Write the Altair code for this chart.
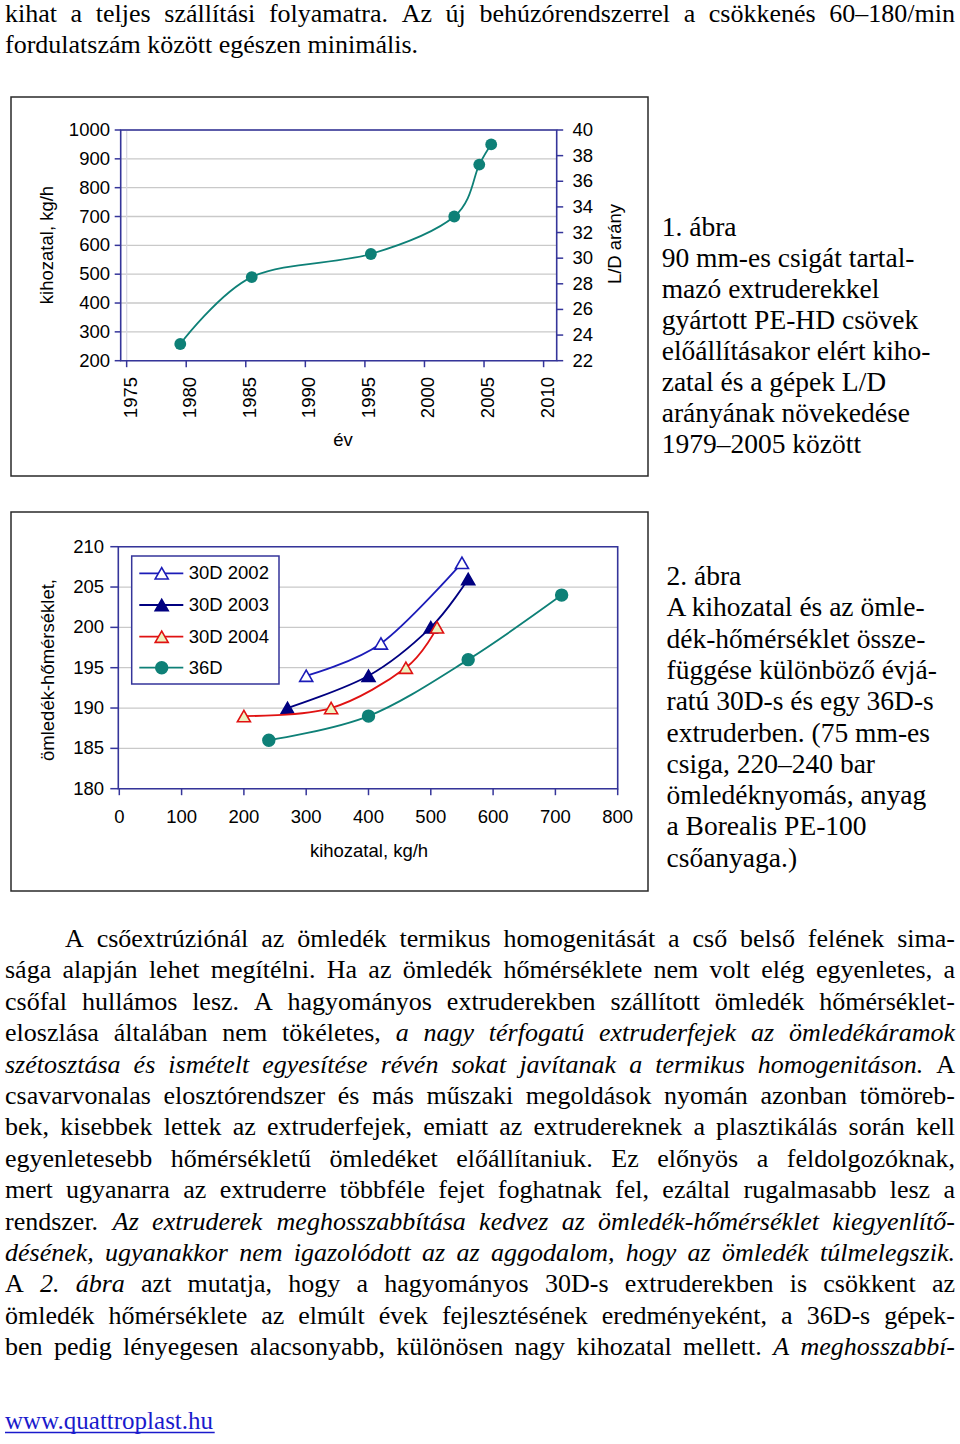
import unicodedata
import altair as alt
import pandas as pd

# ---------------- data ----------------
# Figure 1: output vs. year
years = [1979.5, 1985.5, 1995.5, 2002.5, 2004.6, 2005.6]
output_kgh = [258, 490, 570, 700, 880, 950]
year_ticks = [1975, 1980, 1985, 1990, 1995, 2000, 2005, 2010]
output_ticks = [200, 300, 400, 500, 600, 700, 800, 900, 1000]
ld_ticks = [22, 24, 26, 28, 30, 32, 34, 36, 38, 40]

# Figure 2: melt temperature vs. output
series_names = ["30D 2002", "30D 2003", "30D 2004", "36D"]
s2002_x = [300, 420, 550]
s2002_y = [194, 198, 208]
s2003_x = [270, 400, 500, 560]
s2003_y = [190, 194, 200, 206]
s2004_x = [200, 340, 460, 510]
s2004_y = [189, 190, 195, 200]
s36_x = [240, 400, 560, 710]
s36_y = [186, 189, 196, 204]
kg_ticks = [0, 100, 200, 300, 400, 500, 600, 700, 800]
temp_ticks = [180, 185, 190, 195, 200, 205, 210]

# Page text
top_lines = [
    "kihat a teljes szállítási folyamatra. Az új behúzórendszerrel a csökkenés 60–180/min",
    "fordulatszám között egészen minimális.",
]
caption1 = ["1. ábra", "90 mm-es csigát tartal-", "mazó extruderekkel", "gyártott PE-HD csövek",
            "előállításakor elért kiho-", "zatal és a gépek L/D", "arányának növekedése",
            "1979–2005 között"]
caption2 = ["2. ábra", "A kihozatal és az ömle-", "dék-hőmérséklet össze-", "függése különböző évjá-",
            "ratú 30D-s és egy 36D-s", "extruderben. (75 mm-es", "csiga, 220–240 bar",
            "ömledéknyomás, anyag", "a Borealis PE-100", "csőanyaga.)"]
body_lines = [
    "A csőextrúziónál az ömledék termikus homogenitását a cső belső felének sima-",
    "sága alapján lehet megítélni. Ha az ömledék hőmérséklete nem volt elég egyenletes, a",
    "csőfal hullámos lesz. A hagyományos extruderekben szállított ömledék hőmérséklet-",
    "eloszlása általában nem tökéletes, {a nagy térfogatú extruderfejek az ömledékáramok}",
    "{szétosztása és ismételt egyesítése révén sokat javítanak a termikus homogenitáson.} A",
    "csavarvonalas elosztórendszer és más műszaki megoldások nyomán azonban tömöreb-",
    "bek, kisebbek lettek az extruderfejek, emiatt az extrudereknek a plasztikálás során kell",
    "egyenletesebb hőmérsékletű ömledéket előállítaniuk. Ez előnyös a feldolgozóknak,",
    "mert ugyanarra az extruderre többféle fejet foghatnak fel, ezáltal rugalmasabb lesz a",
    "rendszer. {Az extruderek meghosszabbítása kedvez az ömledék-hőmérséklet kiegyenlítő-}",
    "{désének, ugyanakkor nem igazolódott az az aggodalom, hogy az ömledék túlmelegszik.}",
    "A {2. ábra} azt mutatja, hogy a hagyományos 30D-s extruderekben is csökkent az",
    "ömledék hőmérséklete az elmúlt évek fejlesztésének eredményeként, a 36D-s gépek-",
    "ben pedig lényegesen alacsonyabb, különösen nagy kihozatal mellett. {A meghosszabbí-}",
]
link_text = "www.quattroplast.hu"

# ---------------- styles ----------------
SANS = "Liberation Sans, Arial, sans-serif"
SERIF = "Liberation Serif, Times New Roman, serif"
NAVY = "#35359a"
GRID = "#c9c9c9"
TEAL = "#0e8077"
C2002 = "#1c1cb8"
C2003 = "#000080"
C2004 = "#e01212"
F2004 = "#ecf2c0"
LBL = 18.5

RM = dict(zip("abcdefghijklmnopqrstuvwxyz",
              [.444, .5, .444, .5, .444, .333, .5, .5, .278, .278, .5, .278, .778, .5, .5, .5, .5,
               .333, .389, .278, .5, .5, .722, .5, .5, .444]))
RM.update(dict(zip("ABCDEFGHIJKLMNOPQRSTUVWXYZ",
                   [.722, .667, .667, .722, .611, .556, .722, .722, .333, .389, .722, .611, .889, .722,
                    .722, .556, .722, .667, .556, .611, .722, .722, .944, .722, .722, .611])))
IT = dict(zip("abcdefghijklmnopqrstuvwxyz",
              [.5, .5, .444, .5, .444, .278, .5, .5, .278, .278, .444, .278, .722, .5, .5, .5, .5,
               .389, .389, .278, .5, .444, .667, .444, .444, .389]))
IT.update(dict(zip("ABCDEFGHIJKLMNOPQRSTUVWXYZ",
                   [.611, .611, .667, .722, .611, .611, .722, .722, .333, .444, .667, .556, .833, .667,
                    .722, .611, .722, .611, .5, .556, .722, .611, .833, .611, .556, .556])))
for t in (RM, IT):
    t.update({" ": .25, ".": .25, ",": .25, "-": .333, "–": .5, "/": .278, "(": .333, ")": .333,
              ":": .278})
    for d in "0123456789":
        t[d] = .5


def text_w(s, italic, fs):
    tab = IT if italic else RM
    return sum(tab.get(unicodedata.normalize("NFD", ch)[0], .5) for ch in s) * fs


def parse(line):
    words, ital = [], False
    for tok in line.split(" "):
        start_it = tok.startswith("{")
        if start_it:
            ital = True
            tok = tok[1:]
        end_it = tok.endswith("}")
        if end_it:
            tok = tok[:-1]
        words.append((tok, ital))
        if end_it:
            ital = False
    return words


def layout(lines, y0, step, fs, left=5, right=955, indent_first=0, justify_last=True):
    rows = []
    for i, line in enumerate(lines):
        words = parse(line)
        x0 = left + (indent_first if i == 0 else 0)
        widths = [text_w(w, it, fs) for w, it in words]
        last = i == len(lines) - 1
        if len(words) > 1 and (justify_last or not last):
            gap = (right - x0 - sum(widths)) / (len(words) - 1)
        else:
            gap = .25 * fs
        x = x0
        for (w, it), wd in zip(words, widths):
            rows.append({"px": x, "py": y0 + i * step, "w": w, "it": it})
            x += wd + gap
    return pd.DataFrame(rows)


DUMMY = pd.DataFrame({"k": [0]})
layers = []


def box(x1, x2, y1, y2, stroke, sw, fill=None):
    kw = dict(stroke=stroke, strokeWidth=sw)
    if fill:
        kw["fill"] = fill
    else:
        kw["fillOpacity"] = 0
    return alt.Chart(DUMMY).mark_rect(**kw).encode(
        x=alt.value(x1), x2=alt.value(x2), y=alt.value(y1), y2=alt.value(y2))


def label(txt, x, y, angle=0, size=LBL):
    kw = dict(text=txt, font=SANS, fontSize=size, color="black", align="center", baseline="middle")
    if angle:
        kw["angle"] = angle
    return alt.Chart(DUMMY).mark_text(**kw).encode(x=alt.value(x), y=alt.value(y))


def words_layers(df, fs, color="black"):
    out = []
    for it in (False, True):
        sub = df[df["it"] == it]
        if len(sub) == 0:
            continue
        kw = dict(font=SERIF, fontSize=fs, align="left", baseline="alphabetic", color=color)
        if it:
            kw["fontStyle"] = "italic"
        out.append(alt.Chart(sub[["px", "py", "w"]]).mark_text(**kw).encode(
            x=alt.X("px:Q", scale=None, axis=None), y=alt.Y("py:Q", scale=None, axis=None),
            text="w:N"))
    return out


# ---------------- figure 1 ----------------
L1, R1x, T1, B1 = 120.7, 556.7, 130.0, 360.7
X1 = alt.Scale(domain=[1974.5, 2011.1], range=[L1, R1x])
Y1 = alt.Scale(domain=[200, 1000], range=[B1, T1])
LDs = alt.Scale(domain=[22, 40], range=[B1, T1])
df1 = pd.DataFrame({"year": years, "out": output_kgh})
dy1 = pd.DataFrame({"v": output_ticks})
dld = pd.DataFrame({"v": ld_ticks})
dyr = pd.DataFrame({"v": year_ticks})

layers.append(box(11, 648, 97, 476, "#2a2a2a", 1.5))
layers.append(alt.Chart(dy1).mark_rule(color=GRID, strokeWidth=1.3).encode(
    y=alt.Y("v:Q", scale=Y1, axis=None), x=alt.value(L1), x2=alt.value(R1x)))
layers.append(alt.Chart(pd.DataFrame({"v": [1975]})).mark_rule(color="#d9d9e3", strokeWidth=1.3).encode(
    x=alt.X("v:Q", scale=X1, axis=None), y=alt.value(T1), y2=alt.value(B1)))
layers.append(box(L1, R1x, T1, B1, NAVY, 1.6))
layers.append(alt.Chart(dy1).mark_rule(color=NAVY, strokeWidth=1.5).encode(
    y=alt.Y("v:Q", scale=Y1, axis=None), x=alt.value(L1 - 6), x2=alt.value(L1)))
layers.append(alt.Chart(dld).mark_rule(color=NAVY, strokeWidth=1.5).encode(
    y=alt.Y("v:Q", scale=LDs, axis=None), x=alt.value(R1x), x2=alt.value(R1x + 6.5)))
layers.append(alt.Chart(dyr).mark_rule(color=NAVY, strokeWidth=1.5).encode(
    x=alt.X("v:Q", scale=X1, axis=None), y=alt.value(B1), y2=alt.value(B1 + 6.5)))
layers.append(alt.Chart(df1).mark_line(color=TEAL, strokeWidth=1.8, interpolate="cardinal", tension=0).encode(
    x=alt.X("year:Q", scale=X1, axis=None), y=alt.Y("out:Q", scale=Y1, axis=None)))
layers.append(alt.Chart(df1).mark_circle(color=TEAL, size=140, opacity=1).encode(
    x=alt.X("year:Q", scale=X1, axis=None), y=alt.Y("out:Q", scale=Y1, axis=None)))
layers.append(alt.Chart(dy1).mark_text(font=SANS, fontSize=LBL, align="right", baseline="middle").encode(
    y=alt.Y("v:Q", scale=Y1, axis=None), x=alt.value(110), text="v:Q"))
layers.append(alt.Chart(dld).mark_text(font=SANS, fontSize=LBL, align="left", baseline="middle").encode(
    y=alt.Y("v:Q", scale=LDs, axis=None), x=alt.value(572.5), text="v:Q"))
layers.append(alt.Chart(dyr).mark_text(font=SANS, fontSize=LBL, align="right", baseline="middle",
                                       angle=270, dy=4).encode(
    x=alt.X("v:Q", scale=X1, axis=None), y=alt.value(377), text="v:Q"))
layers.append(label("kihozatal, kg/h", 47, 245, angle=270))
layers.append(label("L/D arány", 615, 244, angle=270))
layers.append(label("év", 343, 440))

# ---------------- figure 2 ----------------
L2, R2x, T2, B2 = 118.3, 617.7, 546.7, 788.7
X2 = alt.Scale(domain=[-1.6, 800], range=[L2, R2x])
Y2 = alt.Scale(domain=[180, 210], range=[B2, T2])
dkg = pd.DataFrame({"v": kg_ticks})
dtp = pd.DataFrame({"v": temp_ticks})

layers.append(box(11, 648, 512, 891, "#2a2a2a", 1.5))
layers.append(alt.Chart(dtp).mark_rule(color=GRID, strokeWidth=1.3).encode(
    y=alt.Y("v:Q", scale=Y2, axis=None), x=alt.value(L2), x2=alt.value(R2x)))
layers.append(box(L2, R2x, T2, B2, NAVY, 1.6))
layers.append(alt.Chart(dtp).mark_rule(color=NAVY, strokeWidth=1.5).encode(
    y=alt.Y("v:Q", scale=Y2, axis=None), x=alt.value(L2 - 8), x2=alt.value(L2)))
layers.append(alt.Chart(dkg).mark_rule(color=NAVY, strokeWidth=1.5).encode(
    x=alt.X("v:Q", scale=X2, axis=None), y=alt.value(B2), y2=alt.value(B2 + 6.5)))

styles = {
    "30D 2002": dict(line=C2002, shape="triangle-up", fill="white", stroke=C2002, size=170),
    "30D 2003": dict(line=C2003, shape="triangle-up", fill=C2003, stroke=C2003, size=170),
    "30D 2004": dict(line=C2004, shape="triangle-up", fill=F2004, stroke=C2004, size=170),
    "36D": dict(line=TEAL, shape="circle", fill=TEAL, stroke=TEAL, size=140),
}
series_xy = {"30D 2002": (s2002_x, s2002_y), "30D 2003": (s2003_x, s2003_y),
             "30D 2004": (s2004_x, s2004_y), "36D": (s36_x, s36_y)}


def marker(st, **enc):
    return alt.Chart(enc.pop("data")).mark_point(
        shape=st["shape"], size=st["size"], fill=st["fill"], stroke=st["stroke"], strokeWidth=1.6,
        filled=True, opacity=1, fillOpacity=1).encode(**enc)


for name in series_names:
    st = styles[name]
    xs, ys = series_xy[name]
    d = pd.DataFrame({"kg": xs, "t": ys})
    layers.append(alt.Chart(d).mark_line(color=st["line"], strokeWidth=1.8, interpolate="cardinal",
                                         tension=0).encode(
        x=alt.X("kg:Q", scale=X2, axis=None), y=alt.Y("t:Q", scale=Y2, axis=None)))
    layers.append(marker(st, data=d, x=alt.X("kg:Q", scale=X2, axis=None),
                         y=alt.Y("t:Q", scale=Y2, axis=None)))

layers.append(alt.Chart(dtp).mark_text(font=SANS, fontSize=LBL, align="right", baseline="middle").encode(
    y=alt.Y("v:Q", scale=Y2, axis=None), x=alt.value(104), text="v:Q"))
layers.append(alt.Chart(dkg).mark_text(font=SANS, fontSize=LBL, align="center", baseline="middle").encode(
    x=alt.X("v:Q", scale=X2, axis=None), y=alt.value(816.7), text="v:Q"))
layers.append(label("ömledék-hőmérséklet,", 48, 670, angle=270))
layers.append(label("kihozatal, kg/h", 369, 851))

# legend
leg_y = [573.3, 605.0, 636.7, 667.7]
layers.append(box(131.7, 279, 556, 684, NAVY, 1.5, fill="white"))
for name, ly in zip(series_names, leg_y):
    st = styles[name]
    dl = pd.DataFrame({"ly": [ly], "name": [name]})
    layers.append(alt.Chart(dl).mark_rule(color=st["line"], strokeWidth=1.8).encode(
        y=alt.Y("ly:Q", scale=None, axis=None), x=alt.value(139.3), x2=alt.value(183.3)))
    layers.append(marker(st, data=dl, y=alt.Y("ly:Q", scale=None, axis=None), x=alt.value(161.7)))
    layers.append(alt.Chart(dl).mark_text(font=SANS, fontSize=LBL, align="left", baseline="middle").encode(
        y=alt.Y("ly:Q", scale=None, axis=None), x=alt.value(188.7), text="name:N"))

# ---------------- page text ----------------
layers += words_layers(layout(top_lines, 22, 31.0, 26, justify_last=False), 26)
layers += words_layers(layout(body_lines, 947, 31.4, 26, indent_first=60), 26)

cap_fs = 27.5
for lines, x0, y0, step in ((caption1, 661.7, 236, 31.0), (caption2, 666.5, 585, 31.3)):
    dcap = pd.DataFrame({"line": lines, "py": [y0 + i * step for i in range(len(lines))]})
    layers.append(alt.Chart(dcap).mark_text(font=SERIF, fontSize=cap_fs, align="left",
                                            baseline="alphabetic", color="black").encode(
        x=alt.value(x0), y=alt.Y("py:Q", scale=None, axis=None), text="line:N"))

LINK = "#1a1acc"
link_fs = 25
layers.append(alt.Chart(pd.DataFrame({"t": [link_text]})).mark_text(
    font=SERIF, fontSize=link_fs, align="left", baseline="alphabetic", color=LINK).encode(
    x=alt.value(5), y=alt.value(1429), text="t:N"))
layers.append(alt.Chart(DUMMY).mark_rule(color=LINK, strokeWidth=1.3).encode(
    x=alt.value(5), x2=alt.value(5 + text_w(link_text, False, link_fs)), y=alt.value(1432.5)))

chart = alt.layer(*layers).resolve_scale(x="independent", y="independent").properties(
    width=960, height=1444, padding=0, autosize="none", background="white"
).configure_view(stroke=None)

chart.save("out.html", embed_options={"renderer": "svg", "actions": False})
